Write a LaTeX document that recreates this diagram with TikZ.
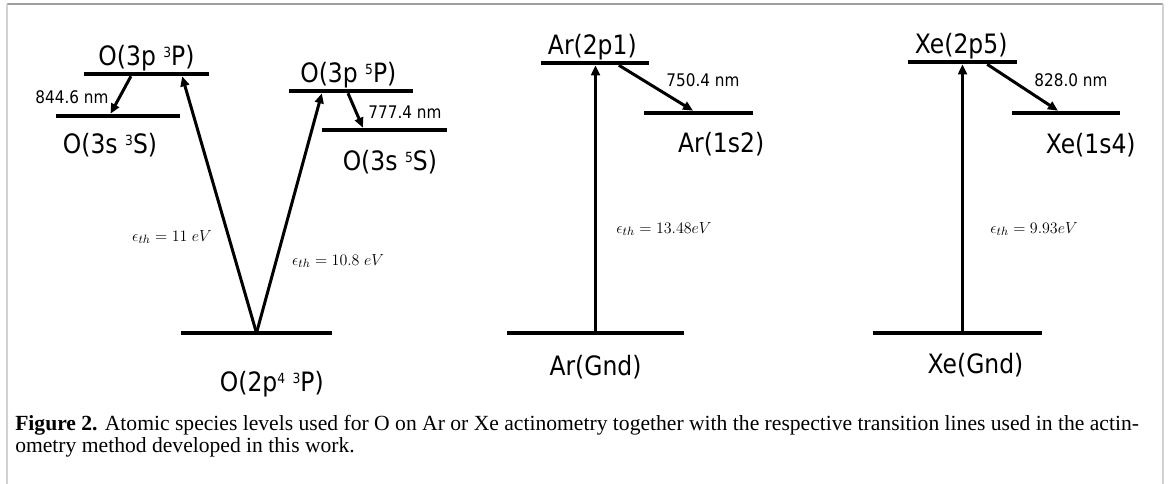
\documentclass[tikz,border=0pt]{standalone}
\usepackage{fontspec}
\usepackage{tikz}
\usetikzlibrary{arrows.meta, positioning, calc}
\setmainfont{Liberation Serif}
\newfontfamily\lvlfont[FakeStretch=0.88]{DejaVu Sans}
\newcommand{\lvlsup}[1]{\raisebox{6pt}{\fontsize{10.5}{10.5}\selectfont #1}}
\tikzstyle{lvlbar} = [rectangle, fill=black, inner sep=0pt, minimum height=3pt]
\tikzstyle{lvllabel} = [inner sep=0pt, font=\lvlfont\fontsize{20}{24}\selectfont]
\tikzstyle{wavelabel} = [inner sep=0pt, font=\lvlfont\fontsize{13}{15}\selectfont]
\tikzstyle{thlabel} = [inner sep=0pt, font=\fontsize{13}{15}\selectfont]
\tikzstyle{arrow} = [-{Triangle[length=7.5pt, width=6.5pt]}, line width=2.25pt]

\begin{document}
\begin{tikzpicture}[x=0.75pt, y=-0.75pt]
    \useasboundingbox (0,0) rectangle (1170,484);

    % Frame
    \draw[gray!75, line width=1.2pt] (7,4) -- (1163,4);
    \draw[gray!35, line width=1.6pt] (7,4) -- (7,484);
    \draw[gray!35, line width=1.6pt] (1163,4) -- (1163,484);

    % Oxygen levels
    \node[lvlbar, minimum width=93.75pt] (o3p3) at (146.5,74) {};
    \node[lvlbar, minimum width=93pt] (o3s3) at (118,116) {};
    \node[lvlbar, minimum width=93pt] (o3p5) at (351,91) {};
    \node[lvlbar, minimum width=93.75pt] (o3s5) at (384.5,130) {};
    \node[lvlbar, minimum width=113.25pt] (ognd) at (256.5,333) {};

    \node[lvllabel, above=0pt of o3p3] (lo3p3) {O(3p \lvlsup{3}P)};
    \node[lvllabel, below=11pt of o3s3, xshift=-6pt] (lo3s3) {O(3s \lvlsup{3}S)};
    \node[lvllabel, above=0pt of o3p5, xshift=-2pt] (lo3p5) {O(3p \lvlsup{5}P)};
    \node[lvllabel, below=13pt of o3s5, xshift=4pt] (lo3s5) {O(3s \lvlsup{5}S)};
    \node[lvllabel, below=27pt of ognd, xshift=11.5pt] (lognd) {O(2p\lvlsup{4} \lvlsup{3}P)};

    % Argon levels
    \node[lvlbar, minimum width=81pt] (ar2p1) at (595,63) {};
    \node[lvlbar, minimum width=81.75pt] (ar1s2) at (698.5,113) {};
    \node[lvlbar, minimum width=132.75pt] (argnd) at (595.5,333) {};

    \node[lvllabel, above=0pt of ar2p1, xshift=-2pt] (lar2p1) {Ar(2p1)};
    \node[lvllabel, below=12.75pt of ar1s2, xshift=17pt] (lar1s2) {Ar(1s2)};
    \node[lvllabel, below=15pt of argnd] (largnd) {Ar(Gnd)};

    % Xenon levels
    \node[lvlbar, minimum width=81.75pt] (xe2p5) at (962.5,62) {};
    \node[lvlbar, minimum width=81pt] (xe1s4) at (1066,113) {};
    \node[lvlbar, minimum width=126.75pt] (xegnd) at (957.5,333) {};

    \node[lvllabel, above=0pt of xe2p5, xshift=-1pt] (lxe2p5) {Xe(2p5)};
    \node[lvllabel, below=13.5pt of xe1s4, xshift=18.5pt] (lxe1s4) {Xe(1s4)};
    \node[lvllabel, below=13.5pt of xegnd, xshift=13.5pt] (lxegnd) {Xe(Gnd)};

    % Transitions
    \draw[arrow] ($(o3p3.south west)!0.376!(o3p3.south east)$) -- ($(o3s3.north west)!0.44!(o3s3.north east)$);
    \draw[arrow] ($(o3p5.south west)!0.476!(o3p5.south east)$) -- ($(o3s5.north west)!0.328!(o3s5.north east)$);
    \draw[arrow] (ognd.center) -- ($(o3p3.south west)!0.784!(o3p3.south east)$);
    \draw[arrow] (ognd.center) -- ($(o3p5.south west)!0.266!(o3p5.south east)$);
    \draw[arrow] (argnd.center) -- (argnd.center |- ar2p1.south);
    \draw[arrow] ($(ar2p1.south west)!0.72!(ar2p1.south east)$) -- ($(ar1s2.north west)!0.45!(ar1s2.north east)$);
    \draw[arrow] (xe2p5.south |- xegnd.center) -- (xe2p5.south);
    \draw[arrow] ($(xe2p5.south west)!0.725!(xe2p5.south east)$) -- ($(xe1s4.north west)!0.426!(xe1s4.north east)$);

    % Line and threshold labels
    \node[wavelabel] (w8446) at (72,97) {844.6 nm};
    \node[wavelabel] (w7774) at (405,112) {777.4 nm};
    \node[wavelabel] (w7504) at (703,80) {750.4 nm};
    \node[wavelabel] (w8280) at (1071,80) {828.0 nm};
    \node[thlabel] (th11) at (172,237) {$\epsilon_{th} = 11\;eV$};
    \node[thlabel] (th108) at (338,261) {$\epsilon_{th} = 10.8\;eV$};
    \node[thlabel] (th1348) at (664,229) {$\epsilon_{th} = 13.48eV$};
    \node[thlabel] (th993) at (1034,229) {$\epsilon_{th} = 9.93eV$};

    % Caption
    \node[anchor=base west, inner sep=0pt, align=left, font=\fontsize{16.2}{16.5}\selectfont] (caption) at (15,452)
        {{\bfseries Figure 2.} Atomic species levels used for O on Ar or Xe actinometry together with the respective transition lines used in the actin-\\ometry method developed in this work.};
\end{tikzpicture}
\end{document}
